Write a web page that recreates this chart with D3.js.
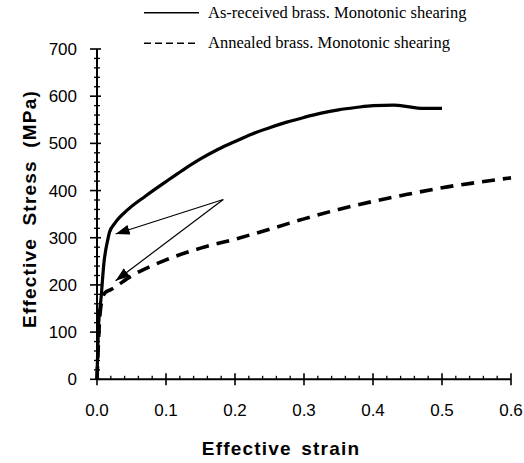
<!DOCTYPE html>
<html><head><meta charset="utf-8">
<script src="https://cdn.jsdelivr.net/npm/d3@7"></script>
<style>body{margin:0;background:#fff}svg{display:block}</style>
</head><body>
<svg id="c" width="524" height="463"></svg>
<script>
const seriesNames = ["As-received brass. Monotonic shearing", "Annealed brass. Monotonic shearing"];
const asReceived = [[0,0],[0.002,105],[0.006,174],[0.010,246],[0.0155,295],[0.018,311],[0.026,331],[0.045,360],[0.07,388],[0.1,419],[0.125,444],[0.15,467],[0.175,487],[0.2,504],[0.225,520],[0.25,533],[0.275,545],[0.3,555],[0.325,564],[0.35,571],[0.375,576],[0.4,580],[0.43,581],[0.45,578],[0.47,574],[0.5,574]];
const annealed = [[0,0],[0.004,130],[0.008,172],[0.012,184],[0.02,190],[0.05,219],[0.1,253],[0.15,278],[0.2,297],[0.25,318],[0.3,340],[0.35,360],[0.4,377],[0.45,392],[0.5,406],[0.55,417],[0.6,427]];
const xTicks = [0,0.1,0.2,0.3,0.4,0.5,0.6];
const yTicks = [0,100,200,300,400,500,600,700];
const arrowFrom = [0.183, 381];
const arrowTips = [[0.027, 308], [0.027, 209]];

const svg = d3.select("#c");
const x = d3.scaleLinear().domain([0,0.6]).range([97,511]);
const y = d3.scaleLinear().domain([0,700]).range([379.3,49]);

// axes
const g = svg.append("g");
g.append("line").attr("x1",x(0)).attr("x2",x(0.6)).attr("y1",y(0)).attr("y2",y(0)).attr("stroke","#000").attr("stroke-width",2);
g.append("line").attr("x1",x(0)).attr("x2",x(0)).attr("y1",y(0)).attr("y2",y(700)).attr("stroke","#000").attr("stroke-width",2);
const xMinor = d3.range(0,0.6001,0.02).filter(v=>Math.abs(v*10-Math.round(v*10))>1e-6);
const yMinor = d3.range(0,701,20).filter(v=>v%100!==0);
g.selectAll(".xm").data(xMinor).join("line").attr("x1",d=>x(d)).attr("x2",d=>x(d)).attr("y1",y(0)).attr("y2",y(0)-3.5).attr("stroke","#000").attr("stroke-width",1.3);
g.selectAll(".xM").data(xTicks).join("line").attr("x1",d=>x(d)).attr("x2",d=>x(d)).attr("y1",y(0)-6).attr("y2",y(0)+6).attr("stroke","#000").attr("stroke-width",1.6);
g.selectAll(".ym").data(yMinor).join("line").attr("x1",x(0)-3).attr("x2",x(0)+3).attr("y1",d=>y(d)).attr("y2",d=>y(d)).attr("stroke","#000").attr("stroke-width",1.3);
g.selectAll(".yM").data(yTicks).join("line").attr("x1",x(0)-7).attr("x2",x(0)+4).attr("y1",d=>y(d)).attr("y2",d=>y(d)).attr("stroke","#000").attr("stroke-width",1.6);

g.selectAll(".xl").data(xTicks).join("text").attr("x",d=>x(d)).attr("y",416).attr("text-anchor","middle")
 .attr("font-family","Liberation Sans, Arial, sans-serif").attr("font-size",17).text(d=>d.toFixed(1));
g.selectAll(".yl").data(yTicks).join("text").attr("x",77).attr("y",d=>y(d)+6).attr("text-anchor","end")
 .attr("font-family","Liberation Sans, Arial, sans-serif").attr("font-size",17).text(d=>d);

svg.append("text").attr("x",281).attr("y",455).attr("text-anchor","middle").attr("font-family","Liberation Sans, Arial, sans-serif")
 .attr("font-weight","bold").attr("font-size",19).attr("letter-spacing",1.2).attr("word-spacing",3).text("Effective strain");
svg.append("text").attr("transform","translate(36,209) rotate(-90)").attr("text-anchor","middle").attr("font-family","Liberation Sans, Arial, sans-serif")
 .attr("font-weight","bold").attr("font-size",19).attr("letter-spacing",1.2).attr("word-spacing",6).text("Effective Stress (MPa)");

// curves
const line = d3.line().x(d=>x(d[0])).y(d=>y(d[1])).curve(d3.curveMonotoneX);
svg.append("path").attr("d",line(annealed)).attr("fill","none").attr("stroke","#000").attr("stroke-width",3.6).attr("stroke-dasharray","13,8");
svg.append("path").attr("d",line(asReceived)).attr("fill","none").attr("stroke","#000").attr("stroke-width",3.2);

// arrows
svg.append("defs").append("marker").attr("id","ah").attr("viewBox","0 0 14 10").attr("refX",14).attr("refY",5)
 .attr("markerWidth",14).attr("markerHeight",10).attr("markerUnits","userSpaceOnUse").attr("orient","auto")
 .append("path").attr("d","M0,0L14,5L0,10Z").attr("fill","#000");
svg.selectAll(".arr").data(arrowTips).join("line").attr("x1",x(arrowFrom[0])).attr("y1",y(arrowFrom[1]))
 .attr("x2",d=>x(d[0])).attr("y2",d=>y(d[1])).attr("stroke","#000").attr("stroke-width",1.2).attr("marker-end","url(#ah)");

// legend
const leg = svg.append("g");
const legY = [12.7, 43.3];
leg.selectAll(".ll").data(seriesNames).join("line").attr("x1",144).attr("x2",199).attr("y1",(d,i)=>legY[i]).attr("y2",(d,i)=>legY[i])
 .attr("stroke","#000").attr("stroke-width",1.5).attr("stroke-dasharray",(d,i)=>i?"7,4":null);
leg.selectAll(".lt").data(seriesNames).join("text").attr("x",208).attr("y",(d,i)=>legY[i]+5)
 .attr("font-family","Liberation Serif, Times New Roman, serif").attr("font-size",16.5).text(d=>d);
</script>
</body></html>
